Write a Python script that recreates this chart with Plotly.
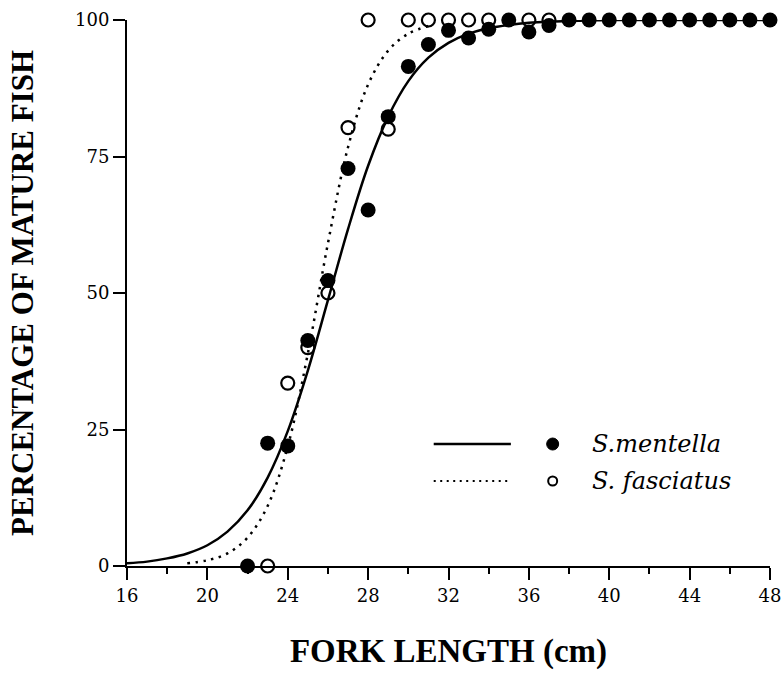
import plotly.graph_objects as go

# ---- data ----
mentella_x = [22, 23, 24, 25, 26, 27, 28, 29, 30, 31, 32, 33, 34, 35, 36, 37,
              38, 39, 40, 41, 42, 43, 44, 45, 46, 47, 48]
mentella_y = [0, 22.5, 22, 41.3, 52.3, 72.8, 65.2, 82.3, 91.5, 95.5, 98.1, 96.7, 98.3, 100, 97.8, 99,
              100, 100, 100, 100, 100, 100, 100, 100, 100, 100, 100]

fasciatus_x = [23, 24, 25, 26, 27, 28, 29, 30, 31, 32, 33, 34, 36, 37]
fasciatus_y = [0, 33.5, 40, 50, 80.3, 100, 80, 100, 100, 100, 100, 100, 100, 100]

# fitted curves
curve_m_x = list(range(16, 49))
curve_m_y = [0.5, 0.8, 1.4, 2.3, 3.8, 6.3, 10.2, 16.2, 24.7, 35.8, 48.7, 61.7, 73.3,
             82.3, 88.8, 93.1, 95.8, 97.5, 98.5, 99.1, 99.5, 99.7, 99.8, 99.9,
             100, 100, 100, 100, 100, 100, 100, 100, 100]
curve_f_x = list(range(19, 32))
curve_f_y = [0.5, 1.05, 2.3, 5.2, 11.0, 21.9, 38.9, 59.1, 76.7, 88.2, 94.4, 97.5, 98.9]

x_ticks = [16, 20, 24, 28, 32, 36, 40, 44, 48]
y_ticks = [0, 25, 50, 75, 100]
legend_names = ["S.mentella", "S. fasciatus"]

TITLE_FONT = "Liberation Serif"
TEXT_FONT = "DejaVu Serif"

fig = go.Figure()
fig.add_trace(go.Scatter(x=curve_m_x, y=curve_m_y, mode="lines", line_shape="spline",
                         line=dict(color="black", width=2.5), cliponaxis=False,
                         showlegend=False, hoverinfo="skip"))
fig.add_trace(go.Scatter(x=curve_f_x, y=curve_f_y, mode="lines", line_shape="spline",
                         line=dict(color="black", width=2.5, dash="2.5px,5.5px"), cliponaxis=False,
                         showlegend=False, hoverinfo="skip"))
fig.add_trace(go.Scatter(x=fasciatus_x, y=fasciatus_y, mode="markers",
                         marker=dict(symbol="circle-open", size=13, color="black",
                                     line=dict(width=2.2, color="black")),
                         cliponaxis=False, showlegend=False, name=legend_names[1]))
fig.add_trace(go.Scatter(x=mentella_x, y=mentella_y, mode="markers",
                         marker=dict(symbol="circle", size=15, color="black"),
                         cliponaxis=False, showlegend=False, name=legend_names[0]))

# custom legend: line sample, gap, marker, italic label
ly = [0.2234, 0.1557]
shapes = [
    dict(type="line", xref="paper", yref="paper", x0=0.477, x1=0.597, y0=ly[0], y1=ly[0],
         line=dict(color="black", width=2.5)),
    dict(type="line", xref="paper", yref="paper", x0=0.477, x1=0.592, y0=ly[1], y1=ly[1],
         line=dict(color="black", width=2, dash="2px,4.5px")),
    dict(type="circle", xref="paper", yref="paper", xsizemode="pixel", ysizemode="pixel",
         xanchor=0.662, yanchor=ly[0], x0=-6, x1=6, y0=-6, y1=6,
         fillcolor="black", line=dict(color="black", width=1)),
    dict(type="circle", xref="paper", yref="paper", xsizemode="pixel", ysizemode="pixel",
         xanchor=0.662, yanchor=ly[1], x0=-4.5, x1=4.5, y0=-4.5, y1=4.5,
         fillcolor="white", line=dict(color="black", width=2)),
]
annotations = [
    dict(xref="paper", yref="paper", x=0.72, y=ly[i], xanchor="left", yanchor="middle",
         text=legend_names[i], showarrow=False,
         font=dict(family=TEXT_FONT, style="italic", size=24, color="black"))
    for i in range(2)
]

fig.update_layout(
    width=783, height=677,
    margin=dict(l=127, r=13, t=20, b=111, autoexpand=False),
    plot_bgcolor="white", paper_bgcolor="white",
    shapes=shapes, annotations=annotations,
    font=dict(family=TEXT_FONT, color="black"),
    xaxis=dict(range=[16, 48], tickvals=x_ticks, ticktext=[str(v) for v in x_ticks],
               automargin=False,
               showgrid=False, zeroline=False, showline=True, linecolor="black", linewidth=2,
               ticks="outside", ticklen=12, tickwidth=2, tickcolor="black",
               minor=dict(dtick=2, ticks="outside", ticklen=6, tickwidth=2, tickcolor="black"),
               tickfont=dict(family=TEXT_FONT, size=18, color="black"),
               title=dict(text="<b>FORK LENGTH (cm)</b>", standoff=34,
                          font=dict(family=TITLE_FONT, size=33, color="black"))),
    yaxis=dict(range=[0, 100], tickvals=y_ticks, ticktext=[str(v) for v in y_ticks],
               automargin=False,
               showgrid=False, zeroline=False, showline=True, linecolor="black", linewidth=2,
               ticks="outside", ticklen=12, tickwidth=2, tickcolor="black",
               tickfont=dict(family=TEXT_FONT, size=18, color="black"),
               title=dict(text="<b>PERCENTAGE OF MATURE FISH</b>", standoff=32,
                          font=dict(family=TITLE_FONT, size=31, color="black"))),
)

fig.write_html("out.html")
